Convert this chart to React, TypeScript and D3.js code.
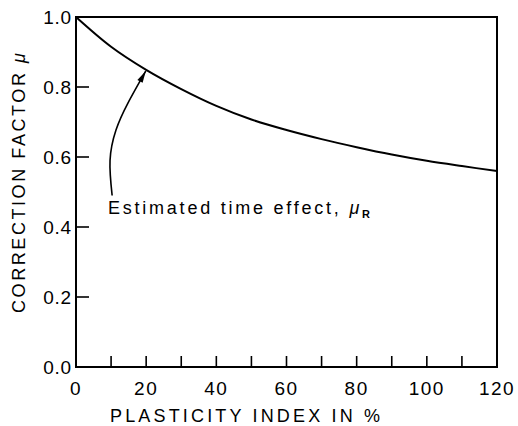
import React from "react";
import * as d3 from "d3";

const plasticityIndex = [0, 10, 20, 30, 40, 50, 60, 70, 80, 90, 100, 110, 120];
const muR = [1.0, 0.915, 0.849, 0.794, 0.746, 0.707, 0.677, 0.651, 0.628, 0.607, 0.589, 0.574, 0.56];

const xTickValues = [0, 10, 20, 30, 40, 50, 60, 70, 80, 90, 100, 110, 120];
const xTickLabels = [0, 20, 40, 60, 80, 100, 120];
const yTickValues = [0.0, 0.2, 0.4, 0.6, 0.8, 1.0];

// annotation arrow path in data units (PI, mu)
const arrowPI = [10.3, 9.7, 11.4, 14.8, 19.9];
const arrowMu = [0.49, 0.59, 0.677, 0.754, 0.846];

const W = 518;
const H = 426;
const M = { left: 76, right: 21, top: 17, bottom: 59 };

export default function App() {
  const x = d3.scaleLinear().domain([0, 120]).range([M.left, W - M.right]);
  const y = d3.scaleLinear().domain([0, 1]).range([H - M.bottom, M.top]);

  const pts: [number, number][] = plasticityIndex.map((p, i) => [p, muR[i]]);
  const line = d3
    .line<[number, number]>()
    .x((d) => x(d[0]))
    .y((d) => y(d[1]))
    .curve(d3.curveCatmullRom.alpha(0.5));

  const aPts: [number, number][] = arrowPI.map((p, i) => [p, arrowMu[i]]);
  const arrowLine = d3
    .line<[number, number]>()
    .x((d) => x(d[0]))
    .y((d) => y(d[1]))
    .curve(d3.curveNatural);

  // arrowhead orientation
  const n = aPts.length;
  const tip = [x(aPts[n - 1][0]), y(aPts[n - 1][1])];
  const prev = [x(aPts[n - 2][0]), y(aPts[n - 2][1])];
  const ang = Math.atan2(tip[1] - prev[1], tip[0] - prev[0]);
  const hl = 12;
  const hw = 3;
  const bx = tip[0] - hl * Math.cos(ang);
  const by = tip[1] - hl * Math.sin(ang);
  const head = `M${tip[0]},${tip[1]} L${bx + hw * Math.sin(ang)},${by - hw * Math.cos(ang)} L${bx - hw * Math.sin(ang)},${by + hw * Math.cos(ang)} Z`;

  const x0 = x(0), x1 = x(120), y0 = y(0), y1 = y(1);
  const font = "'Liberation Sans', Arial, sans-serif";

  return (
    <svg width={W} height={H} style={{ position: "absolute", left: 0, top: 0, background: "#fff" }}>
      <rect x={0} y={0} width={W} height={H} fill="#fff" />
      {/* frame */}
      <rect x={x0} y={y1} width={x1 - x0} height={y0 - y1} fill="none" stroke="#000" strokeWidth={2} />
      {/* x ticks */}
      {xTickValues.slice(1, -1).map((v) => (
        <line key={"xt" + v} x1={x(v)} x2={x(v)} y1={y0} y2={y0 - 11} stroke="#000" strokeWidth={1.6} />
      ))}
      {/* y ticks */}
      {yTickValues.slice(1, -1).map((v) => (
        <line key={"yt" + v} x1={x0} x2={x0 + 13} y1={y(v)} y2={y(v)} stroke="#000" strokeWidth={1.6} />
      ))}
      {/* x tick labels */}
      {xTickLabels.map((v) => (
        <text key={"xl" + v} x={x(v)} y={y0 + 28} textAnchor="middle" fontFamily={font} fontSize={19} letterSpacing={1.5}>
          {v}
        </text>
      ))}
      {/* y tick labels */}
      {yTickValues.map((v) => (
        <text key={"yl" + v} x={x0 - 4} y={y(v) + 7} textAnchor="end" fontFamily={font} fontSize={19} letterSpacing={0.8}>
          {v.toFixed(1)}
        </text>
      ))}
      {/* axis titles */}
      <text x={110} y={422} fontFamily={font} fontSize={18} textLength={270} lengthAdjust="spacing">
        PLASTICITY INDEX IN %
      </text>
      <text
        transform={`translate(25,313) rotate(-90)`}
        fontFamily={font}
        fontSize={18}
        textLength={260}
        lengthAdjust="spacing"
      >
        CORRECTION FACTOR <tspan fontStyle="italic">μ</tspan>
      </text>
      {/* curve */}
      <path d={line(pts) || ""} fill="none" stroke="#000" strokeWidth={2} />
      {/* annotation */}
      <path d={arrowLine(aPts) || ""} fill="none" stroke="#000" strokeWidth={1.6} />
      <path d={head} fill="#000" />
      <text x={108} y={214} fontFamily={font} fontSize={18} textLength={262} lengthAdjust="spacing">
        Estimated time effect, <tspan fontStyle="italic">μ</tspan>
        <tspan fontSize={11} fontWeight="bold" dy={4}>R</tspan>
      </text>
    </svg>
  );
}
